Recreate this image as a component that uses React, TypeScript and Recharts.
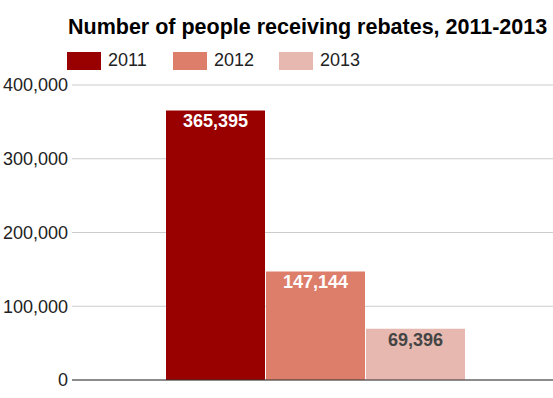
import React from "react";
import {
  BarChart,
  Bar,
  XAxis,
  YAxis,
  CartesianGrid,
  ReferenceLine,
  LabelList,
} from "recharts";

const years = ["2011", "2012", "2013"];
const recipients = [365395, 147144, 69396];
const colors = ["#990000", "#dd7e6b", "#e6b8af"];
const labelColors = ["#ffffff", "#ffffff", "#444444"];
const yTicks = [0, 100000, 200000, 300000, 400000];

const row: Record<string, number | string> = { name: "" };
years.forEach((y, i) => {
  row["y" + y] = recipients[i];
});
const data = [row];

const font = '"Liberation Sans", Arial, sans-serif';
const fmt = (v: number) => v.toLocaleString("en-US");

function LegendBox() {
  return (
    <div
      style={{
        position: "absolute",
        left: 67,
        top: 50,
        display: "flex",
        fontFamily: font,
        fontSize: 18,
        color: "#222",
      }}
    >
      {years.map((y, i) => (
        <div key={y} style={{ display: "flex", alignItems: "center", width: 106 }}>
          <span
            style={{ width: 34, height: 18, background: colors[i], marginRight: 7 }}
          />
          <span>{y}</span>
        </div>
      ))}
    </div>
  );
}

export default function App() {
  return (
    <div
      style={{
        position: "absolute",
        left: 0,
        top: 0,
        width: 553,
        height: 398,
        background: "#fff",
        overflow: "hidden",
      }}
    >
      <BarChart
        width={559}
        height={398}
        data={data}
        margin={{ top: 85, right: 0, bottom: 18, left: 0 }}
        barGap={1}
        barSize={99}
      >
        <CartesianGrid vertical={false} stroke="#cccccc" />
        <XAxis dataKey="name" hide />
        <YAxis
          width={72}
          domain={[0, 400000]}
          ticks={yTicks}
          tickFormatter={fmt}
          axisLine={false}
          tickLine={false}
          tickSize={0}
          tickMargin={4}
          tick={{ fill: "#222", fontSize: 18, fontFamily: font }}
        />
        {years.map((y, i) => (
          <Bar
            key={y}
            dataKey={"y" + y}
            name={y}
            fill={colors[i]}
            isAnimationActive={false}
          >
            <LabelList
              dataKey={"y" + y}
              position="insideTop"
              offset={4}
              formatter={(v: any) => fmt(Number(v))}
              style={{
                fill: labelColors[i],
                fontWeight: "bold",
                fontSize: 18,
                fontFamily: font,
              }}
            />
          </Bar>
        ))}
        <ReferenceLine y={0} stroke="#333" strokeWidth={1} />
      </BarChart>
      <div
        style={{
          position: "absolute",
          left: 68,
          top: 15,
          fontFamily: font,
          fontWeight: "bold",
          fontSize: 21.5,
          color: "#000",
          whiteSpace: "nowrap",
        }}
      >
        Number of people receiving rebates, 2011-2013
      </div>
      <LegendBox />
    </div>
  );
}
